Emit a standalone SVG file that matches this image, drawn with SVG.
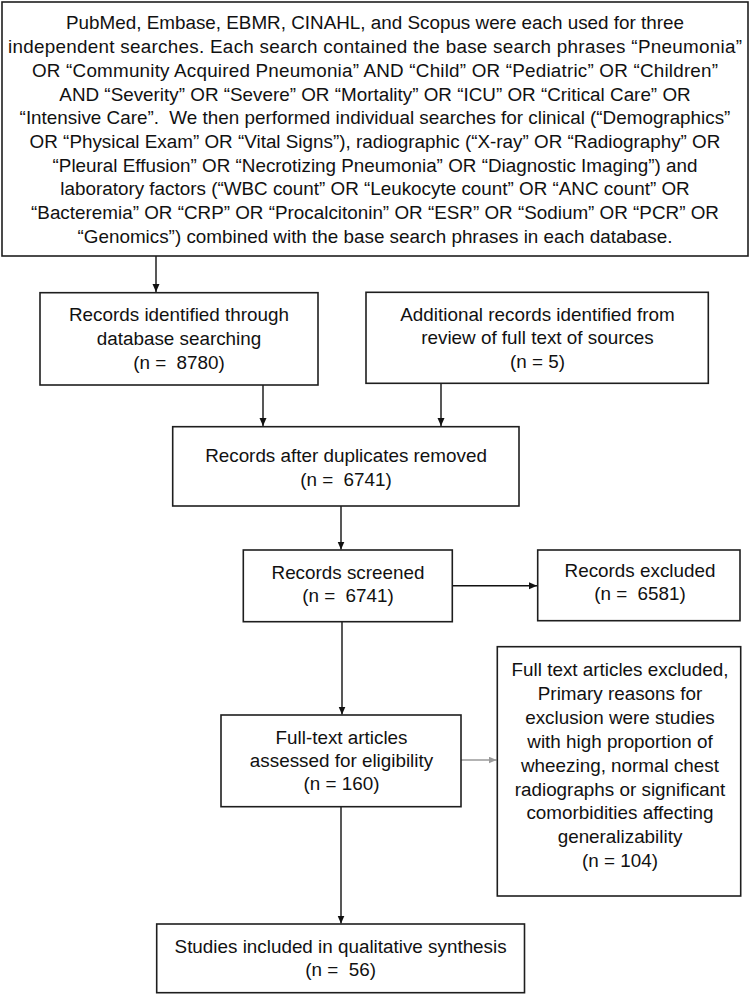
<svg xmlns="http://www.w3.org/2000/svg" width="752" height="995" viewBox="0 0 752 995" xml:space="preserve">
<style>
.box{fill:#fff;stroke:#1e1e1e;stroke-width:1.6}
text{font-family:"Liberation Sans",Arial,sans-serif;font-size:18.85px;fill:#111;text-anchor:middle;white-space:pre}
.ln{stroke:#111;stroke-width:1.4;fill:none}
.gl{stroke:#9a9a9a;stroke-width:1.4;fill:none}
</style>
<defs>
<marker id="ah" markerUnits="userSpaceOnUse" markerWidth="9" markerHeight="8" refX="8" refY="3.5" orient="auto">
<path d="M0,0 L8,3.5 L0,7 z" fill="#111"/>
</marker>
<marker id="ahg" markerUnits="userSpaceOnUse" markerWidth="9" markerHeight="8" refX="8" refY="3.5" orient="auto">
<path d="M0,0 L8,3.5 L0,7 z" fill="#9a9a9a"/>
</marker>
</defs>
<rect width="752" height="995" fill="#fff"/>
<g id="connectors">
<line class="ln" x1="156" y1="256" x2="156" y2="292" marker-end="url(#ah)"/>
<line class="ln" x1="263" y1="385" x2="263" y2="426" marker-end="url(#ah)"/>
<line class="ln" x1="441" y1="383" x2="441" y2="426" marker-end="url(#ah)"/>
<line class="ln" x1="341" y1="506" x2="341" y2="549.5" marker-end="url(#ah)"/>
<line class="ln" x1="452.5" y1="585.7" x2="537" y2="585.7" marker-end="url(#ah)"/>
<line class="ln" x1="342" y1="621.7" x2="342" y2="714.5" marker-end="url(#ah)"/>
<line class="gl" x1="461" y1="760" x2="496.5" y2="760" marker-end="url(#ahg)"/>
<line class="ln" x1="341" y1="806.7" x2="341" y2="923.5" marker-end="url(#ah)"/>
</g>
<g id="search">
<rect class="box" x="2" y="2" width="746" height="254"/>
<text x="375" y="29.4">PubMed, Embase, EBMR, CINAHL, and Scopus were each used for three</text>
<text x="375" y="53.1" textLength="734" lengthAdjust="spacing">independent searches. Each search contained the base search phrases “Pneumonia”</text>
<text x="375" y="76.8" textLength="686" lengthAdjust="spacing">OR “Community Acquired Pneumonia” AND “Child” OR “Pediatric” OR “Children”</text>
<text x="375" y="100.5">AND “Severity” OR “Severe” OR “Mortality” OR “ICU” OR “Critical Care” OR</text>
<text x="375" y="124.2">“Intensive Care”.  We then performed individual searches for clinical (“Demographics”</text>
<text x="375" y="147.9">OR “Physical Exam” OR “Vital Signs”), radiographic (“X-ray” OR “Radiography” OR</text>
<text x="375" y="171.6">“Pleural Effusion” OR “Necrotizing Pneumonia” OR “Diagnostic Imaging”) and</text>
<text x="375" y="195.3">laboratory factors (“WBC count” OR “Leukocyte count” OR “ANC count” OR</text>
<text x="375" y="219">“Bacteremia” OR “CRP” OR “Procalcitonin” OR “ESR” OR “Sodium” OR “PCR” OR</text>
<text x="375" y="242.7">“Genomics”) combined with the base search phrases in each database.</text>
</g>
<g id="identified">
<rect class="box" x="40" y="292.7" width="278" height="92.3"/>
<text x="179" y="320.7">Records identified through</text>
<text x="179" y="344.7">database searching</text>
<text x="179" y="368.7">(n =  8780)</text>
</g>
<g id="additional">
<rect class="box" x="366" y="292.3" width="342.3" height="91"/>
<text x="537.5" y="320.5">Additional records identified from</text>
<text x="537.5" y="344">review of full text of sources</text>
<text x="537.5" y="367.5">(n = 5)</text>
</g>
<g id="duplicates">
<rect class="box" x="172.7" y="426.7" width="346.3" height="79.3"/>
<text x="346" y="461.7">Records after duplicates removed</text>
<text x="346" y="485.5">(n =  6741)</text>
</g>
<g id="screened">
<rect class="box" x="243.3" y="550" width="209" height="71.7"/>
<text x="348" y="578.5">Records screened</text>
<text x="348" y="601.5">(n =  6741)</text>
</g>
<g id="excluded">
<rect class="box" x="537.7" y="550" width="202.3" height="70.7"/>
<text x="640" y="576.7">Records excluded</text>
<text x="640" y="599.5">(n =  6581)</text>
</g>
<g id="fulltext">
<rect class="box" x="221" y="715" width="240" height="91.7"/>
<text x="341.5" y="743.5">Full-text articles</text>
<text x="341.5" y="766.5">assessed for eligibility</text>
<text x="341.5" y="789.5">(n = 160)</text>
</g>
<g id="fulltext-excluded">
<rect class="box" x="497.3" y="646.7" width="243.4" height="249.3"/>
<text x="620" y="676">Full text articles excluded,</text>
<text x="620" y="699.9">Primary reasons for</text>
<text x="620" y="723.8">exclusion were studies</text>
<text x="620" y="747.7">with high proportion of</text>
<text x="620" y="771.6">wheezing, normal chest</text>
<text x="620" y="795.5">radiographs or significant</text>
<text x="620" y="819.4">comorbidities affecting</text>
<text x="620" y="843.3">generalizability</text>
<text x="620" y="867.2">(n = 104)</text>
</g>
<g id="included">
<rect class="box" x="156.7" y="924" width="367.8" height="68.7"/>
<text x="340.6" y="953">Studies included in qualitative synthesis</text>
<text x="340.6" y="975.5">(n =  56)</text>
</g>
</svg>
